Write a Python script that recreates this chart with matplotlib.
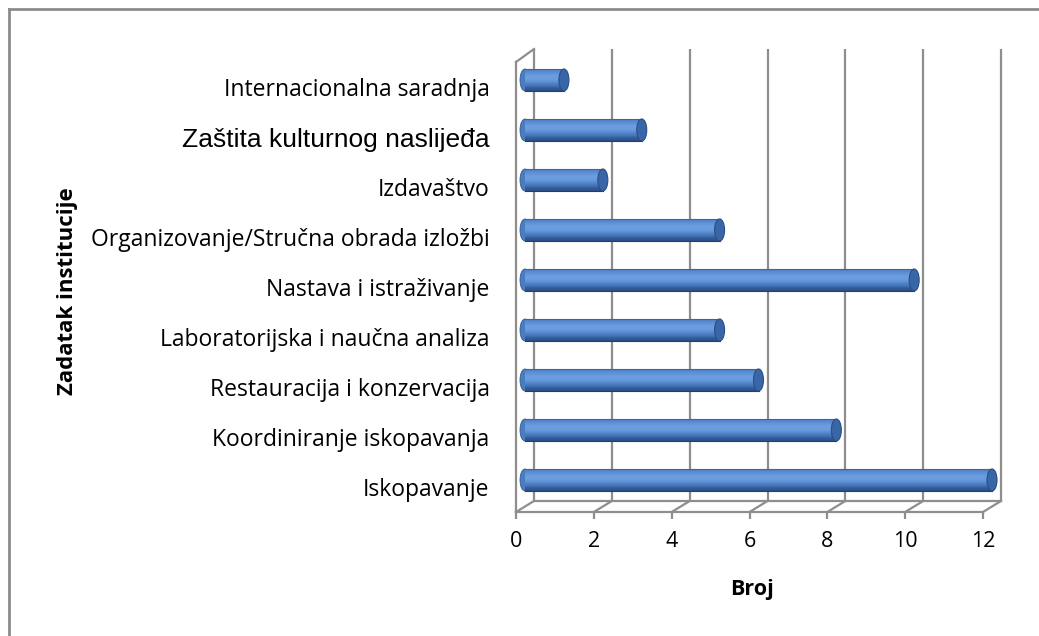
import numpy as np
from matplotlib import pyplot as plt
from matplotlib.patches import Ellipse
from matplotlib.lines import Line2D
from matplotlib.colors import LinearSegmentedColormap

categories = ['Iskopavanje', 'Koordiniranje iskopavanja', 'Restauracija i konzervacija',
              'Laboratorijska i naučna analiza', 'Nastava i istraživanje',
              'Organizovanje/Stručna obrada izložbi', 'Izdavaštvo',
              'Zaštita kulturnog naslijeđa', 'Internacionalna saradnja']
values = [12, 8, 6, 5, 10, 5, 2, 3, 1]
xticks = [0, 2, 4, 6, 8, 10, 12]

W, H = 1039, 636
fig = plt.figure(figsize=(W / 100, H / 100), dpi=100)
ax = fig.add_axes([516 / W, 1 - 512 / H, 467 / W, 450 / H])
ax.set_xlim(0, 12)
ax.set_ylim(-0.5, len(categories) - 0.5)

# pixel -> data scale for the fake 3d depth
px_x = 467 / 12
px_y = 450 / len(categories)
DX, DY = 18 / px_x, 11 / px_y
BX, BY = 9 / px_x, 7 / px_y
grid = '#8e8e8e'
ytop = len(categories) - 0.5

# back wall, floor and left wall
for x in xticks:
    ax.plot([x + DX, x + DX], [-0.5 + DY, ytop + DY + 2 / px_y], color=grid, lw=1.6,
            clip_on=False, zorder=1, solid_capstyle='butt')
    ax.plot([x, x + DX], [-0.5, -0.5 + DY], color=grid, lw=1.6, clip_on=False, zorder=1)
ax.plot([DX, 12 + DX], [-0.5 + DY, -0.5 + DY], color=grid, lw=1.6, clip_on=False, zorder=1)
ax.plot([0, DX], [ytop, ytop + DY + 2 / px_y], color=grid, lw=1.6, clip_on=False, zorder=1)

# cylinders
cmap = LinearSegmentedColormap.from_list(
    'cyl', ['#2a4f86', '#355f9e', '#4a7cc0', '#5d8fd4', '#6d9de0', '#6a9bdf', '#5b8dd3', '#4f80c6'])
bh = 0.44
n = 40
ypos = np.arange(len(categories))
for i in range(n):
    off = -bh / 2 + (i + 0.5) * bh / n
    ax.barh(ypos + BY + off, values, height=bh / n + 0.003, left=BX,
            color=cmap(i / (n - 1)), linewidth=0, zorder=3, clip_on=False)
cap_w = 10 / px_x
for y, v in zip(ypos, values):
    ax.add_patch(Ellipse((BX, y + BY), cap_w, bh, facecolor='#4a7cc0',
                         edgecolor='#335d98', lw=0.6, zorder=2.5, clip_on=False))
    ax.add_patch(Ellipse((BX + v, y + BY), cap_w, bh, facecolor='#3866a6',
                         edgecolor='#2b4f84', lw=0.8, zorder=4, clip_on=False))
    ax.plot([BX, BX + v], [y + BY + bh / 2, y + BY + bh / 2], color='#3a66a2', lw=0.8,
            zorder=3.5, clip_on=False)
    ax.plot([BX, BX + v], [y + BY - bh / 2, y + BY - bh / 2], color='#243f6a', lw=0.8,
            zorder=3.5, clip_on=False)

for s in ['top', 'right']:
    ax.spines[s].set_visible(False)
for s in ['bottom', 'left']:
    ax.spines[s].set_color(grid)
    ax.spines[s].set_linewidth(1.6)
    ax.spines[s].set_zorder(1)

ax.set_xticks(xticks)
ax.set_xticklabels([str(x) for x in xticks], fontfamily='Open Sans', fontsize=15.5)
ax.tick_params(axis='x', length=5, width=1.6, color=grid, pad=9)
ax.set_yticks(ypos)
ax.set_yticklabels(categories, fontfamily='Open Sans', fontsize=16.5)
ax.tick_params(axis='y', length=0, pad=19)
for lab in ax.get_yticklabels():
    if lab.get_text().startswith('Zaštita'):
        lab.set_fontfamily('Liberation Sans')
        lab.set_fontsize(19)

fig.text(68 / W, 1 - 291 / H, 'Zadatak institucije', rotation=90, ha='center', va='center',
         fontfamily='Open Sans', fontweight='bold', fontsize=16)
fig.text(752 / W, 1 - 589 / H, 'Broj', ha='center', va='center',
         fontfamily='Open Sans', fontweight='bold', fontsize=15.5)

# chart area border (only left and top visible)
fig.add_artist(Line2D([8.5 / W, 8.5 / W], [0, 1 - 8.5 / H], color='#8c8c8c', lw=2))
fig.add_artist(Line2D([8.5 / W, 1], [1 - 8.5 / H, 1 - 8.5 / H], color='#8c8c8c', lw=2))

fig.savefig('out.png', dpi=100)
